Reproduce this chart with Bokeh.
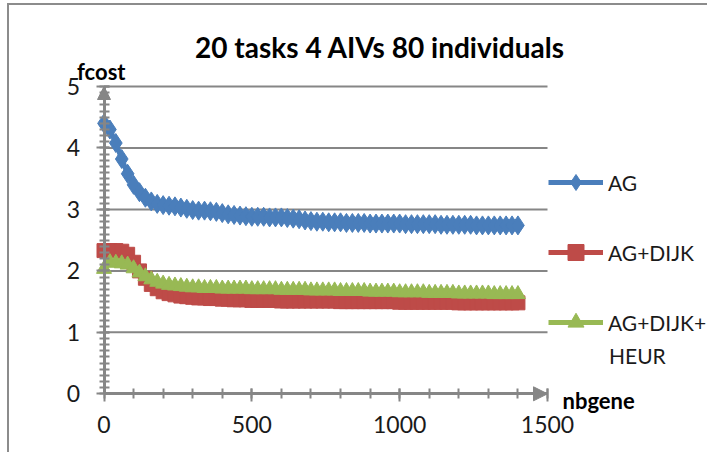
from bokeh.plotting import figure
from bokeh.models import (Range1d, FixedTicker, Legend, LegendItem, Label, Arrow, NormalHead)
from bokeh.embed import file_html
from bokeh.resources import INLINE

# ---------------- data ----------------
generations = list(range(0, 1401, 20))

ag = [4.40, 4.30, 4.08, 3.82, 3.58, 3.40, 3.28, 3.19, 3.13, 3.09,
      3.07, 3.06, 3.05, 3.03, 3.01, 2.99, 2.98, 2.98, 2.97, 2.96,
      2.94, 2.92, 2.91, 2.90, 2.89, 2.88, 2.88, 2.88, 2.87, 2.87,
      2.87, 2.86, 2.85, 2.84, 2.82, 2.81, 2.80, 2.80, 2.79, 2.79,
      2.79, 2.78, 2.78, 2.78, 2.78, 2.77, 2.77, 2.77, 2.77, 2.77,
      2.77, 2.76, 2.76, 2.76, 2.76, 2.76, 2.76, 2.75, 2.75, 2.75,
      2.75, 2.75, 2.75, 2.74, 2.74, 2.74, 2.74, 2.74, 2.74, 2.74, 2.74]

ag_dijk = [2.33, 2.33, 2.33, 2.32, 2.27, 2.14, 2.00, 1.88, 1.78, 1.71,
           1.66, 1.63, 1.61, 1.59, 1.58, 1.57, 1.56, 1.56, 1.55, 1.55,
           1.54, 1.54, 1.53, 1.53, 1.53, 1.52, 1.52, 1.52, 1.52, 1.52,
           1.51, 1.51, 1.51, 1.51, 1.51, 1.51, 1.51, 1.51, 1.51, 1.51,
           1.50, 1.50, 1.50, 1.50, 1.50, 1.50, 1.50, 1.50, 1.50, 1.50,
           1.49, 1.49, 1.49, 1.49, 1.49, 1.49, 1.49, 1.49, 1.49, 1.49,
           1.48, 1.48, 1.48, 1.48, 1.48, 1.48, 1.48, 1.48, 1.48, 1.48, 1.48]

ag_dijk_heur = [2.03, 2.14, 2.13, 2.12, 2.10, 2.04, 1.97, 1.91, 1.86, 1.82,
                1.79, 1.77, 1.76, 1.75, 1.74, 1.73, 1.73, 1.72, 1.72, 1.72,
                1.71, 1.71, 1.71, 1.71, 1.71, 1.70, 1.70, 1.70, 1.70, 1.70,
                1.69, 1.69, 1.69, 1.69, 1.69, 1.68, 1.68, 1.68, 1.68, 1.68,
                1.67, 1.67, 1.67, 1.67, 1.67, 1.66, 1.66, 1.66, 1.66, 1.66,
                1.65, 1.65, 1.65, 1.65, 1.65, 1.64, 1.64, 1.64, 1.64, 1.64,
                1.63, 1.63, 1.63, 1.63, 1.63, 1.63, 1.62, 1.62, 1.62, 1.62, 1.62]

series_names = ["AG", "AG+DIJK", "AG+DIJK+"]
legend_extra_line = "HEUR"
y_ticks = [0, 1, 2, 3, 4, 5]
x_ticks = [0, 500, 1000, 1500]
title_text = "20 tasks 4 AIVs 80 individuals"
y_label = "fcost"
x_label = "nbgene"

# ---------------- layout / styles ----------------
FONT = "Lato"
GRAY = "#868686"
BLUE = "#4A7EBB"
RED = "#BE4B48"
GREEN = "#98B954"
TXT = "#1a1a1a"

W, H = 700, 449
# pixel geometry of the plot area inside the canvas
X0_PX, X1_PX = 94.5, 538.0      # canvas px of x = 0 and x = 1500
Y0_PX, Y5_PX = 388.3, 81.0      # canvas px of y = 0 and y = 5
xs = (X1_PX - X0_PX) / (x_ticks[-1] - x_ticks[0])
ys = (Y0_PX - Y5_PX) / (y_ticks[-1] - y_ticks[0])
x_range = Range1d(-X0_PX / xs, (W - X0_PX) / xs)
y_range = Range1d(-(H - Y0_PX) / ys, Y0_PX / ys)

p = figure(width=W, height=H, output_backend="svg", toolbar_location=None,
           x_range=x_range, y_range=y_range,
           min_border=0, outline_line_color=None)
p.styles = {"margin-left": "7px", "margin-top": "3px",
            "border-left": "2px solid #8c8c8c", "border-top": "2px solid #8c8c8c"}

p.xgrid.visible = False
p.ygrid.visible = False

# horizontal gridlines across the plot area
p.segment(x0=[x_ticks[0]] * 5, x1=[x_ticks[-1]] * 5, y0=y_ticks[1:], y1=y_ticks[1:],
          line_color=GRAY, line_width=2)

# axes (crossing at 0, 0)
ya = p.yaxis[0]
ya.fixed_location = 0
ya.bounds = (y_ticks[0], y_ticks[-1])
ya.ticker = FixedTicker(ticks=y_ticks, minor_ticks=[i / 10 for i in range(0, 51)])
xa = p.xaxis[0]
xa.fixed_location = 0
xa.bounds = (x_ticks[0], x_ticks[-1])
xa.ticker = FixedTicker(ticks=x_ticks, minor_ticks=list(range(0, 1501, 100)))
for ax in (ya, xa):
    ax.axis_line_color = GRAY
    ax.axis_line_width = 3
    ax.major_tick_line_color = GRAY
    ax.major_tick_line_width = 2
    ax.minor_tick_line_color = GRAY
    ax.minor_tick_line_width = 2
    ax.minor_tick_in = 5
    ax.minor_tick_out = 5
    ax.major_tick_in = 5
    ax.major_tick_out = 8
    ax.major_label_text_font = FONT
    ax.major_label_text_font_size = "23px"
    ax.major_label_text_color = TXT
ya.major_label_standoff = 16
xa.major_label_standoff = 14

# axis arrows
p.add_layout(Arrow(end=NormalHead(size=13, fill_color=GRAY, line_color=GRAY),
                   x_start=0, y_start=0, x_end=0, y_end=5, line_alpha=0))
p.add_layout(Arrow(end=NormalHead(size=14, fill_color=GRAY, line_color=GRAY),
                   x_start=0, y_start=0, x_end=1500, y_end=0, line_alpha=0))

# series
l1 = p.line(generations, ag, line_color=BLUE, line_width=5)
m1 = p.scatter(generations, ag, marker="diamond", size=19, fill_color=BLUE, line_color=BLUE)
l2 = p.line(generations, ag_dijk, line_color=RED, line_width=5)
m2 = p.scatter(generations, ag_dijk, marker="square", size=14, fill_color=RED, line_color=RED)
l3 = p.line(generations, ag_dijk_heur, line_color=GREEN, line_width=5)
m3 = p.scatter(generations, ag_dijk_heur, marker="triangle", size=15, fill_color=GREEN, line_color=GREEN)

legend = Legend(items=[LegendItem(label=series_names[0], renderers=[l1, m1]),
                       LegendItem(label=series_names[1], renderers=[l2, m2]),
                       LegendItem(label=series_names[2], renderers=[l3, m3])],
                location=(539, 112), glyph_width=55, glyph_height=40, label_height=20,
                spacing=30, padding=0, margin=0, label_standoff=5,
                label_text_font=FONT, label_text_font_size="21px", label_text_color=TXT,
                border_line_color=None, background_fill_alpha=0)
p.add_layout(legend, "center")

# texts
p.add_layout(Label(x=0, y=0, x_offset=505, y_offset=38, text=legend_extra_line, text_font=FONT,
                   text_font_size="21px", text_color=TXT, text_baseline="middle"))
p.add_layout(Label(x=0, y=5, x_offset=-27, y_offset=15, text=y_label, text_font=FONT,
                   text_font_size="22px", text_font_style="bold", text_color="#000000",
                   text_baseline="middle"))
p.add_layout(Label(x=1500, y=0, x_offset=15, y_offset=-7, text=x_label, text_font=FONT,
                   text_font_size="22px", text_font_style="bold", text_color="#000000",
                   text_baseline="middle"))
p.add_layout(Label(x=0, y=5, x_offset=276, y_offset=40, text=title_text, text_font=FONT,
                   text_font_size="28px", text_font_style="bold", text_color="#000000",
                   text_baseline="middle", text_align="center"))

open("out.html", "w").write(file_html(p, INLINE))
